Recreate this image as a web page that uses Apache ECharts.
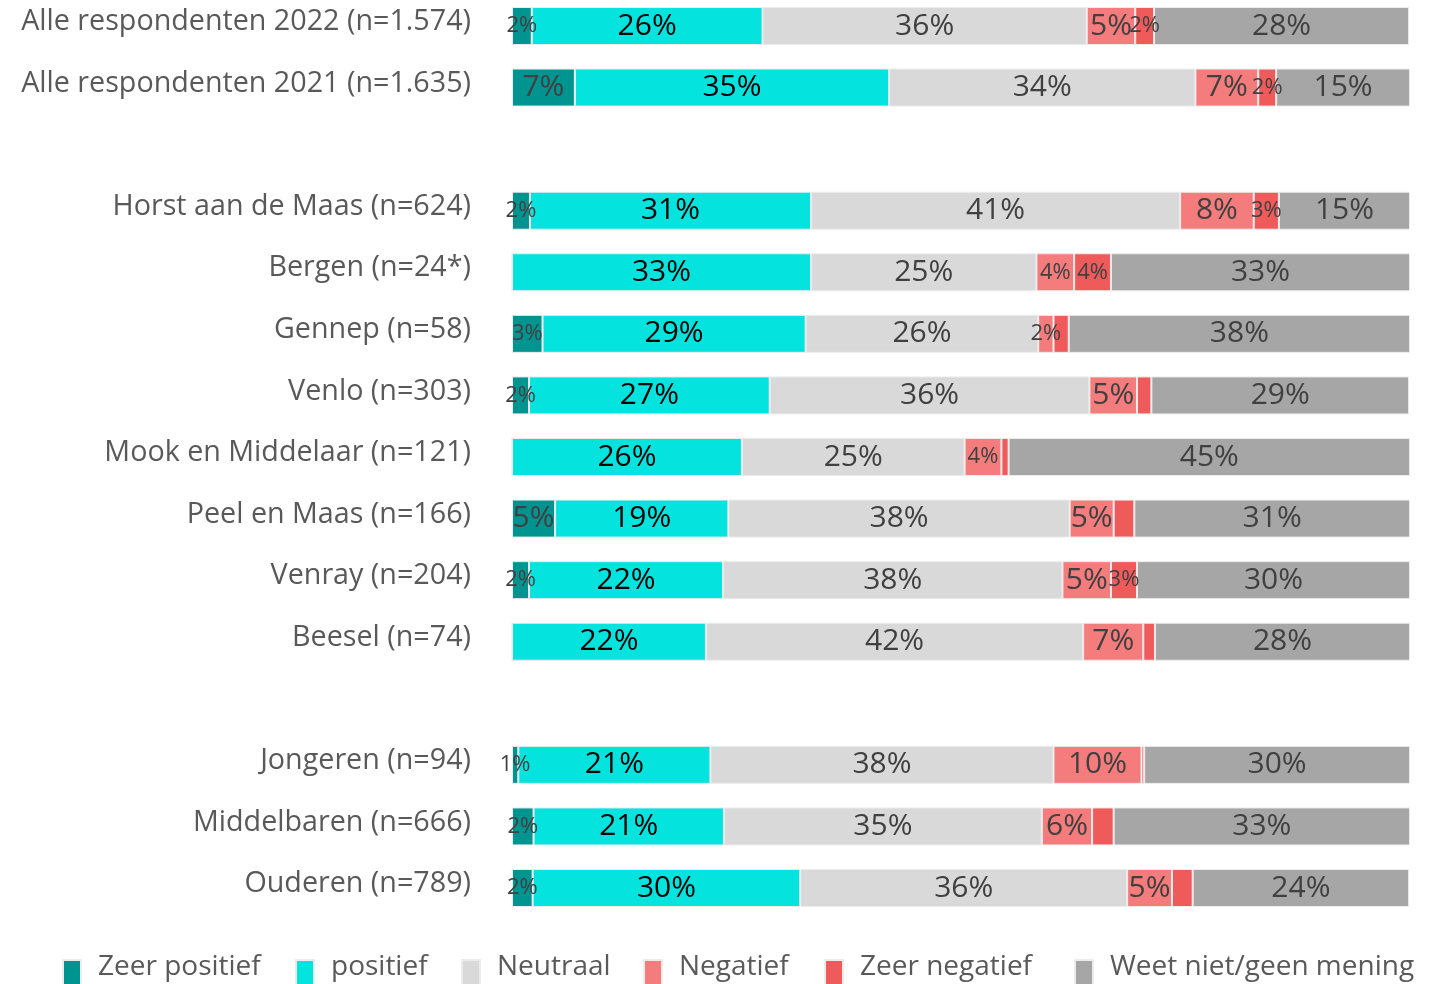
<!DOCTYPE html>
<html>
<head>
<meta charset="utf-8">
<script src="https://cdn.jsdelivr.net/npm/echarts@6/dist/echarts.min.js"></script>
<style>
html,body{margin:0;padding:0;background:#fff;}
#chart{width:1436px;height:984px;}
</style>
</head>
<body>
<div id="chart"></div>
<script>
const categories = [
  'Alle respondenten 2022 (n=1.574)',
  'Alle respondenten 2021 (n=1.635)',
  ' ',
  'Horst aan de Maas (n=624)',
  'Bergen (n=24*)',
  'Gennep (n=58)',
  'Venlo (n=303)',
  'Mook en Middelaar (n=121)',
  'Peel en Maas (n=166)',
  'Venray (n=204)',
  'Beesel (n=74)',
  '  ',
  'Jongeren (n=94)',
  'Middelbaren (n=666)',
  'Ouderen (n=789)'
];
const seriesNames = ['Zeer positief', 'positief', 'Neutraal', 'Negatief', 'Zeer negatief', 'Weet niet/geen mening'];
const zeerPositief = [2.2, 7.0, null, 2.0, 0, 3.4, 1.9, 0, 4.8, 1.9, 0, null, 0.7, 2.4, 2.3];
const positief     = [25.7, 35.0, null, 31.3, 33.3, 29.3, 26.8, 25.6, 19.3, 21.6, 21.6, null, 21.4, 21.2, 29.8];
const neutraal     = [36.1, 34.1, null, 41.1, 25.1, 25.9, 35.6, 24.8, 38.0, 37.8, 42.0, null, 38.2, 35.4, 36.4];
const negatief     = [5.4, 7.0, null, 8.2, 4.2, 1.7, 5.3, 4.1, 4.9, 5.4, 6.7, null, 9.8, 5.6, 5.0];
const zeerNegatief = [2.1, 2.0, null, 2.8, 4.1, 1.7, 1.6, 0.8, 2.3, 2.9, 1.3, null, 0.3, 2.4, 2.3];
const weetNiet     = [28.4, 14.9, null, 14.6, 33.3, 38.0, 28.7, 44.7, 30.7, 30.4, 28.4, null, 29.6, 33.0, 24.1];
// rows (by index) whose "Zeer negatief" value carries no printed label in the original
const zeerNegatiefUnlabeled = [5, 6, 7, 8, 10, 12, 13, 14];

const values = [zeerPositief, positief, neutraal, negatief, zeerNegatief, weetNiet];
const colors = ['#009490', '#05E3DF', '#D9D9D9', '#F47C7C', '#EF5A5B', '#A6A6A6'];
const labelColors = ['#404040', '#000000', '#404040', '#404040', '#404040', '#404040'];
const FONT = '"Open Sans", sans-serif';
const legendLefts = [62, 295, 461, 643, 824, 1074];

const series = values.map((arr, si) => ({
  name: seriesNames[si],
  type: 'bar',
  stack: 'total',
  barWidth: 38,
  itemStyle: { color: colors[si], borderColor: '#ececec', borderWidth: 1 },
  data: arr.map((v, i) => {
    if (v === null) return null;
    const hide = v === 0 || (si === 4 && zeerNegatiefUnlabeled.includes(i));
    return {
      value: v,
      label: {
        show: !hide,
        fontSize: v < 4.5 ? 22 : 30
      }
    };
  }),
  label: {
    show: true,
    position: 'inside',
    color: labelColors[si],
    fontFamily: FONT,
    formatter: p => Math.round(p.value) + '%'
  },
  emphasis: { disabled: true }
}));

const legends = seriesNames.map((n, i) => ({
  data: [n],
  left: legendLefts[i],
  top: 948,
  padding: 0,
  itemWidth: 18,
  itemHeight: 36,
  icon: 'path://M0,0 M0,11 L18,11 L18,36 L0,36 Z',
  selectedMode: false,
  textStyle: { color: '#595959', fontSize: 28, fontFamily: FONT, padding: [0, 0, 0, 12] }
}));

const chart = echarts.init(document.getElementById('chart'), null, { renderer: 'canvas' });
chart.setOption({
  animation: false,
  backgroundColor: '#fff',
  grid: { left: 512, right: 26, top: -4.8, height: 923.6, containLabel: false, outerBoundsMode: 'none' },
  xAxis: {
    type: 'value', min: 0, max: 100,
    show: false
  },
  yAxis: {
    type: 'category',
    inverse: true,
    data: categories,
    axisLine: { show: false },
    axisTick: { show: false },
    axisLabel: {
      margin: 41,
      color: '#595959',
      fontSize: 28.7,
      fontFamily: FONT,
      verticalAlign: 'bottom',
      lineHeight: 8
    }
  },
  legend: legends,
  series: series
});
</script>
</body>
</html>
